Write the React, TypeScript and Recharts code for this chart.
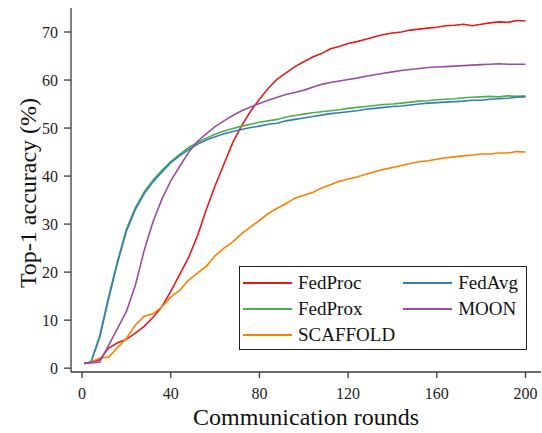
import React from 'react';
import { LineChart, Line, XAxis, YAxis } from 'recharts';

const rounds = [
  1, 4, 8, 12, 16, 20, 24, 28, 32, 36, 40, 44, 48, 52, 56, 60, 64, 68, 72, 76, 80,
  84, 88, 92, 96, 100, 104, 108, 112, 116, 120, 124, 128, 132, 136, 140, 144, 148,
  152, 156, 160, 164, 168, 172, 176, 180, 184, 188, 192, 196, 200,
];

const fedProc = [
  1.0, 1.2, 1.8, 4.2, 5.3, 6.0, 7.3, 8.7, 10.6, 12.8, 16.0, 19.5, 23.0, 27.5, 33.0, 38.0,
  42.5, 47.0, 50.5, 53.5, 56.0, 58.3, 60.2, 61.5, 62.8, 63.8, 64.8, 65.5, 66.5, 67.0, 67.6,
  68.0, 68.5, 69.0, 69.5, 69.8, 70.0, 70.4, 70.6, 70.8, 71.0, 71.3, 71.4, 71.6, 71.3, 71.6,
  71.9, 72.1, 72.0, 72.4, 72.3,
];

const fedProx = [
  1.0, 1.3, 6.8, 15.0, 22.3, 29.0, 33.4, 36.7, 39.2, 41.2, 43.0, 44.5, 45.9, 47.0, 47.9,
  48.7, 49.4, 49.9, 50.4, 50.8, 51.2, 51.5, 51.8, 52.3, 52.6, 52.9, 53.2, 53.4, 53.6, 53.8,
  54.1, 54.3, 54.5, 54.7, 54.9, 55.0, 55.2, 55.4, 55.6, 55.7, 55.9, 56.0, 56.1, 56.3, 56.4,
  56.5, 56.6, 56.5, 56.7, 56.6, 56.7,
];

const scaffold = [
  1.0, 1.3, 2.1, 2.3, 4.3, 6.2, 9.0, 10.8, 11.3, 12.8, 14.8, 16.2, 18.3, 19.8, 21.2, 23.4,
  25.0, 26.3, 28.0, 29.4, 30.8, 32.2, 33.3, 34.3, 35.4, 36.0, 36.6, 37.5, 38.2, 38.9, 39.4,
  39.8, 40.4, 40.9, 41.4, 41.8, 42.2, 42.6, 43.0, 43.2, 43.5, 43.8, 44.0, 44.2, 44.4, 44.6,
  44.6, 44.8, 44.8, 45.1, 45.0,
];

const fedAvg = [
  1.0, 1.2, 6.5, 14.5, 22.0, 28.5, 33.0, 36.3, 38.8, 40.8, 42.8, 44.2, 45.5, 46.6, 47.5,
  48.2, 48.8, 49.3, 49.7, 50.1, 50.4, 50.8, 51.0, 51.5, 51.8, 52.1, 52.4, 52.7, 53.0, 53.2,
  53.4, 53.6, 53.9, 54.1, 54.3, 54.5, 54.6, 54.8, 55.0, 55.2, 55.3, 55.4, 55.5, 55.6, 55.8,
  55.8, 56.0, 56.1, 56.2, 56.4, 56.5,
];

const moon = [
  1.0, 1.1, 1.3, 4.8, 8.3, 11.8, 17.2, 24.5, 30.5, 35.2, 39.0, 42.0, 44.9, 47.2, 48.8,
  50.3, 51.5, 52.6, 53.6, 54.4, 55.1, 55.8, 56.4, 57.0, 57.4, 57.9, 58.5, 59.1, 59.5, 59.8,
  60.1, 60.4, 60.8, 61.1, 61.4, 61.7, 62.0, 62.2, 62.4, 62.6, 62.7, 62.8, 62.9, 63.0, 63.1,
  63.2, 63.3, 63.4, 63.3, 63.3, 63.3,
];

const xTicks = [0, 40, 80, 120, 160, 200];
const yTicks = [0, 10, 20, 30, 40, 50, 60, 70];

const series = [
  { key: 'FedProc', values: fedProc, color: '#e41a1c' },
  { key: 'FedProx', values: fedProx, color: '#4daf4a' },
  { key: 'SCAFFOLD', values: scaffold, color: '#ff7f00' },
  { key: 'FedAvg', values: fedAvg, color: '#377eb8' },
  { key: 'MOON', values: moon, color: '#984ea3' },
];

const data = rounds.map((r, i) => {
  const row: Record<string, number> = { round: r };
  series.forEach(s => {
    row[s.key] = s.values[i];
  });
  return row;
});

const FONT = '"Times New Roman", "Liberation Serif", serif';
const AXIS = '#3a3a3a';

// legend: matplotlib ncol=2 fills column by column
const LegendBox = () => {
  const cols = [series.slice(0, 3), series.slice(3)];
  return (
    <div
      style={{
        position: 'absolute',
        left: 239,
        top: 266,
        width: 288,
        height: 84,
        border: '1.3px solid #222',
        background: '#fff',
        display: 'flex',
        padding: '3px 4px 3px 3px',
        fontFamily: FONT,
        fontSize: 19,
        color: '#111',
        boxSizing: 'border-box',
      }}
    >
      {cols.map((col, ci) => (
        <div key={ci} style={{ marginRight: ci === 0 ? 8 : 0 }}>
          {col.map(s => (
            <div key={s.key} style={{ display: 'flex', alignItems: 'center', height: 26 }}>
              <span
                style={{
                  display: 'inline-block',
                  width: 49,
                  height: 0,
                  borderTop: `2px solid ${s.color}`,
                  marginRight: 6,
                }}
              />
              <span>{s.key}</span>
            </div>
          ))}
        </div>
      ))}
    </div>
  );
};

const XTick = (props: any) => {
  const { x, y, payload } = props;
  return (
    <text x={x} y={y + 13} textAnchor="middle" dominantBaseline="central" fill="#222" fontSize={16} style={{ fontFamily: FONT }}>
      {payload.value}
    </text>
  );
};

const YTick = (props: any) => {
  const { y, payload } = props;
  return (
    <text x={58} y={y} textAnchor="end" dominantBaseline="central" fill="#222" fontSize={16} style={{ fontFamily: FONT }}>
      {payload.value}
    </text>
  );
};

const YLabel = (props: any) => {
  const { viewBox } = props;
  const cy = viewBox.y + viewBox.height / 2 + 3;
  return (
    <text x={28} y={cy} transform={`rotate(-90, 28, ${cy})`} textAnchor="middle" dominantBaseline="central" fill="#111" fontSize={24} style={{ fontFamily: FONT }}>
      Top-1 accuracy (%)
    </text>
  );
};

const XLabel = (props: any) => {
  const { viewBox } = props;
  const cx = viewBox.x + viewBox.width / 2;
  return (
    <text x={cx} y={417} textAnchor="middle" dominantBaseline="central" fill="#111" fontSize={24} style={{ fontFamily: FONT }}>
      Communication rounds
    </text>
  );
};

export default function App() {
  return (
    <div style={{ position: 'absolute', left: 0, top: 0, width: 542, height: 433, background: '#fff' }}>
      <LineChart width={542} height={433} data={data} margin={{ top: 8, right: 1, left: 0, bottom: 0 }}>
        <XAxis
          dataKey="round"
          type="number"
          domain={[-5, 207]}
          ticks={xTicks}
          height={61}
          stroke={AXIS}
          strokeWidth={1.3}
          tickSize={6}
          tick={<XTick />}
          label={<XLabel />}
        />
        <XAxis xAxisId="top" orientation="top" type="number" domain={[-5, 207]} height={0} tick={false} tickLine={false} stroke={AXIS} strokeWidth={1.3} />
        <YAxis
          type="number"
          domain={[-0.8, 75]}
          ticks={yTicks}
          width={71}
          stroke={AXIS}
          strokeWidth={1.3}
          tickSize={7}
          tick={<YTick />}
          label={<YLabel />}
        />
        <YAxis yAxisId="right" orientation="right" type="number" domain={[-0.8, 75]} width={0} tick={false} tickLine={false} stroke={AXIS} strokeWidth={1.3} />
        {series.map(s => (
          <Line
            key={s.key}
            dataKey={s.key}
            stroke={s.color}
            strokeWidth={1.6}
            dot={false}
            type="linear"
            isAnimationActive={false}
          />
        ))}
      </LineChart>
      <LegendBox />
    </div>
  );
}
